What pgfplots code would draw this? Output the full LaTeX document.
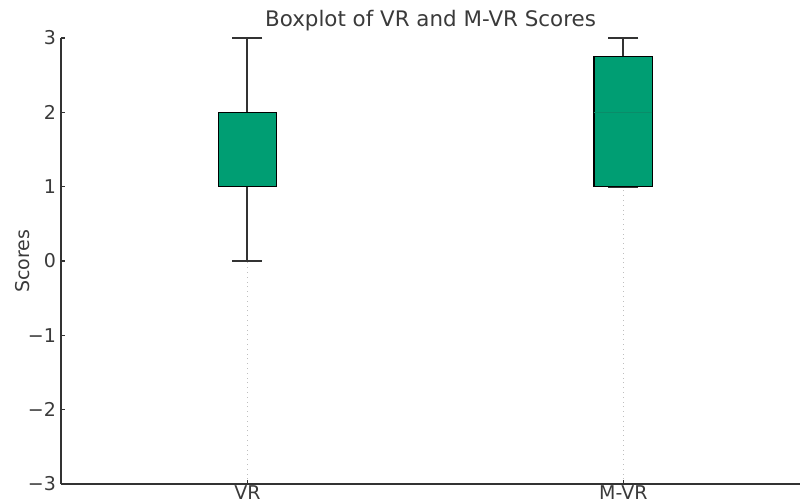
\documentclass[border=0pt]{standalone}
\usepackage{fontspec}
\setmainfont{DejaVu Sans}
\usepackage{pgfplots}
\pgfplotsset{compat=1.18}
\usepgfplotslibrary{statistics}
\definecolor{boxgreen}{HTML}{009E73}
\definecolor{medgreen}{HTML}{0A8C69}
\definecolor{axgray}{HTML}{333333}
\definecolor{txtgray}{HTML}{3A3A3A}
\begin{document}
\begin{tikzpicture}
\begin{axis}[
  scale only axis,
  width=369.5pt, height=223pt,
  xmin=0.504, xmax=2.47,
  ymin=-3, ymax=3,
  boxplot/draw direction=y,
  axis x line*=bottom, axis y line*=left,
  axis line style={axgray, line width=0.8pt},
  xtick={1,2}, xticklabels={VR,M-VR},
  ytick={-3,-2,-1,0,1,2,3},
  yticklabels={−3,−2,−1,0,1,2,3},
  tick align=inside,
  major tick length=2pt,
  tick style={axgray, line width=0.6pt},
  xmajorgrids, ymajorgrids=false,
  major x grid style={gray!50, dotted, line width=0.5pt},
  ticklabel style={font=\fontsize{9.5}{11}\selectfont, text=txtgray},
  yticklabel style={xshift=1pt},
  xticklabel style={yshift=2.5pt},
  ylabel={Scores},
  ylabel style={font=\fontsize{9.5}{11}\selectfont, text=txtgray, yshift=-8pt},
  title={Boxplot of VR and M-VR Scores},
  title style={font=\fontsize{10.7}{12}\selectfont, text=txtgray, yshift=-6pt},
  clip=false,
]
\coordinate (sw) at (rel axis cs:0,0);
\coordinate (ne) at (rel axis cs:1,1);
\addplot[fill=boxgreen, draw=black, line width=0.8pt,
  boxplot/every whisker/.style={draw=axgray, line width=1pt},
  boxplot/every median/.style={draw=black, line width=0.8pt},
  boxplot prepared={lower whisker=0, lower quartile=1, median=1,
    upper quartile=2, upper whisker=3, draw position=1,
    box extend=0.155, whisker extend=0.08}] coordinates {};
\addplot[fill=boxgreen, draw=black, line width=0.8pt,
  boxplot/every whisker/.style={draw=axgray, line width=1pt},
  boxplot/every median/.style={draw=medgreen, line width=0.8pt},
  boxplot prepared={lower whisker=1, lower quartile=1, median=2,
    upper quartile=2.75, upper whisker=3, draw position=2,
    box extend=0.155, whisker extend=0.08}] coordinates {};
\end{axis}
\pgfresetboundingbox
\path ([shift={(-30.5pt,-9pt)}]sw) rectangle ([shift={(0pt,19pt)}]ne);
\end{tikzpicture}
\end{document}
